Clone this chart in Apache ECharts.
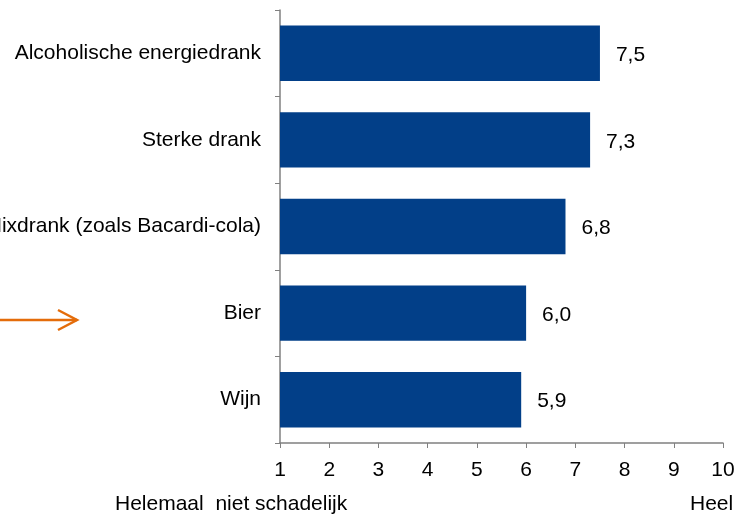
<!DOCTYPE html>
<html>
<head>
<meta charset="utf-8">
<script src="https://cdn.jsdelivr.net/npm/echarts@6/dist/echarts.min.js"></script>
<style>html,body{margin:0;padding:0;background:#fff}#c{width:736px;height:515px}</style>
</head>
<body>
<div id="c"></div>
<script>
const categories = ["Alcoholische energiedrank", "Sterke drank", "Mixdrank (zoals Bacardi-cola)", "Bier", "Wijn"];
const values = [7.5, 7.3, 6.8, 6.0, 5.9];
const xTicks = [1, 2, 3, 4, 5, 6, 7, 8, 9, 10];

const chart = echarts.init(document.getElementById('c'));
const font = 'Liberation Sans, Arial, sans-serif';
const fs = 21;
chart.setOption({
  animation: false,
  grid: { left: 280, right: 13, top: 10, bottom: 72, containLabel: false, outerBoundsMode: 'none' },
  xAxis: {
    type: 'value', min: xTicks[0], max: xTicks[xTicks.length - 1], interval: 1,
    axisLine: { show: true, lineStyle: { color: '#808080', width: 1.5 } },
    axisTick: { show: true, length: 5, lineStyle: { color: '#808080' } },
    splitLine: { show: false },
    axisLabel: { color: '#000', fontSize: fs, fontFamily: font, margin: 17 }
  },
  yAxis: {
    type: 'category', data: categories, inverse: true,
    axisLine: { show: true, lineStyle: { color: '#808080', width: 1.5 } },
    axisTick: { show: true, length: 5, lineStyle: { color: '#808080' } },
    axisLabel: { color: '#000', fontSize: fs, fontFamily: font, margin: 19, padding: [4, 0, 0, 0] }
  },
  series: [{
    type: 'bar', data: values, barCategoryGap: '36%',
    itemStyle: { color: '#023f88' },
    label: {
      show: true, position: 'right', distance: 16, offset: [0, 2], color: '#000', fontSize: fs, fontFamily: font,
      formatter: p => p.value.toFixed(1).replace('.', ',')
    }
  }],
  graphic: [
    { type: 'polyline', shape: { points: [[0, 320], [77, 320]] }, style: { stroke: '#e46c0a', lineWidth: 2.5, fill: null } },
    { type: 'polyline', shape: { points: [[58, 310], [77, 320], [58, 330]] }, style: { stroke: '#e46c0a', lineWidth: 2.5, fill: null } },
    { type: 'text', left: 115, top: 494, style: { text: 'Helemaal  niet schadelijk', fill: '#000', font: fs + 'px ' + font } },
    { type: 'text', left: 690, top: 494, style: { text: 'Heel', fill: '#000', font: fs + 'px ' + font } }
  ]
});
</script>
</body>
</html>
